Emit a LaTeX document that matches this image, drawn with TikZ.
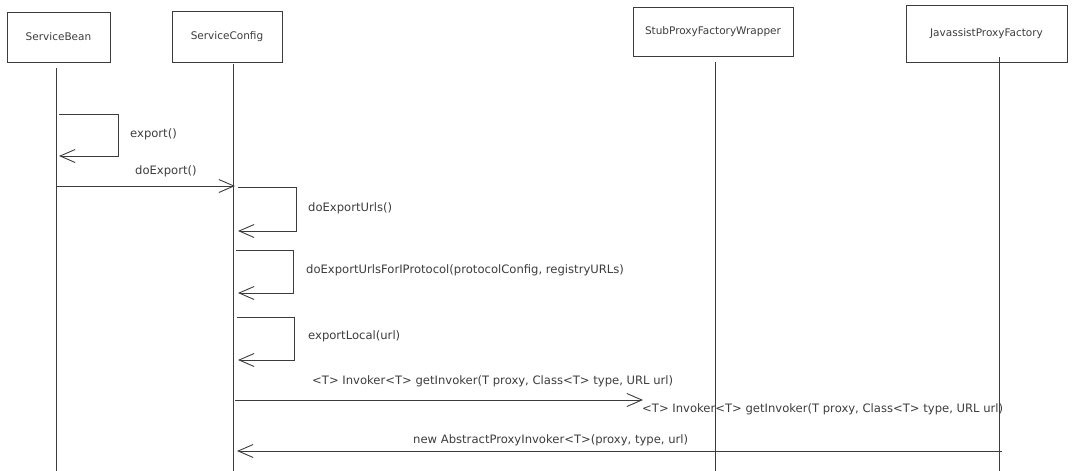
\documentclass[tikz,border=0pt]{standalone}
\usepackage{fontspec}
\setmainfont{DejaVu Sans}
\usetikzlibrary{arrows.meta,positioning,calc}
\definecolor{ink}{HTML}{3C3C3C}

\begin{document}
\begin{tikzpicture}[x=1pt,y=-1pt,
  actor/.style={draw=ink, line width=1pt, text=ink, font=\fontsize{10.5}{12}\selectfont},
  life/.style={draw=ink, line width=0.9pt},
  msg/.style={draw=ink, line width=0.9pt, -{Straight Barb[length=15pt,width=13pt,line width=0.9pt]}},
  lbl/.style={anchor=west, inner sep=0pt, text=ink, font=\fontsize{11.6}{13}\selectfont}]
\useasboundingbox (0,0) rectangle (1080,471);

% participants
\node[actor, minimum width=103pt, minimum height=50pt] (bean) at (58.5,37) {ServiceBean};
\node[actor, minimum width=110pt, minimum height=51pt] (config) at (227,36.5) {ServiceConfig};
\node[actor, minimum width=160pt, minimum height=49pt] (stub) at (713,31.5) {StubProxyFactoryWrapper};
\node[actor, minimum width=161pt, minimum height=57pt] (jav) at (986.5,33.5) {JavassistProxyFactory};

% lifelines
\coordinate (beanTop) at (56,68);   \coordinate (beanEnd) at (56,471);
\coordinate (cfgTop) at (233,64);   \coordinate (cfgEnd) at (233,471);
\coordinate (stubTop) at (715,62);  \coordinate (stubEnd) at (715,471);
\coordinate (javTop) at (999,57);   \coordinate (javEnd) at (999,471);
\draw[life] (beanTop) -- (beanEnd);
\draw[life] (cfgTop) -- (cfgEnd);
\draw[life] (stubTop) -- (stubEnd);
\draw[life] (javTop) -- (javEnd);

% ServiceBean
\coordinate (b1) at (59,114); \coordinate (b2) at (59,156);
\draw[msg] (b1) -- ++(59,0) |- (b2);
\node[lbl] (export) at (130,134) {export()};
\coordinate (b3) at (56,186); \coordinate (c0) at (235,186);
\draw[msg] (b3) -- (c0);
\node[lbl] (doexport) at (135,171) {doExport()};

% ServiceConfig self calls
\coordinate (c1) at (238,187); \coordinate (c2) at (238,231);
\draw[msg] (c1) -- ++(58,0) |- (c2);
\node[lbl] (urls) at (308,208) {doExportUrls()};
\coordinate (c3) at (236,250); \coordinate (c4) at (238,293);
\draw[msg] (c3) -- ++(57,0) |- (c4);
\node[lbl] (proto) at (306,270) {doExportUrlsForIProtocol(protocolConfig, registryURLs)};
\coordinate (c5) at (237,317); \coordinate (c6) at (238,360);
\draw[msg] (c5) -- ++(57,0) |- (c6);
\node[lbl] (local) at (308,336) {exportLocal(url)};

% getInvoker
\coordinate (c7) at (235,400); \coordinate (g1) at (643,400);
\draw[msg] (c7) -- (g1);
\node[lbl] (get1) at (312,381) {<T> Invoker<T> getInvoker(T proxy, Class<T> type, URL url)};
\node[lbl] (get2) at (642,409) {<T> Invoker<T> getInvoker(T proxy, Class<T> type, URL url)};

% return
\coordinate (j1) at (1002,451); \coordinate (c8) at (237,451);
\draw[msg] (j1) -- (c8);
\node[lbl] (ret) at (413,440) {new AbstractProxyInvoker<T>(proxy, type, url)};
\end{tikzpicture}
\end{document}
